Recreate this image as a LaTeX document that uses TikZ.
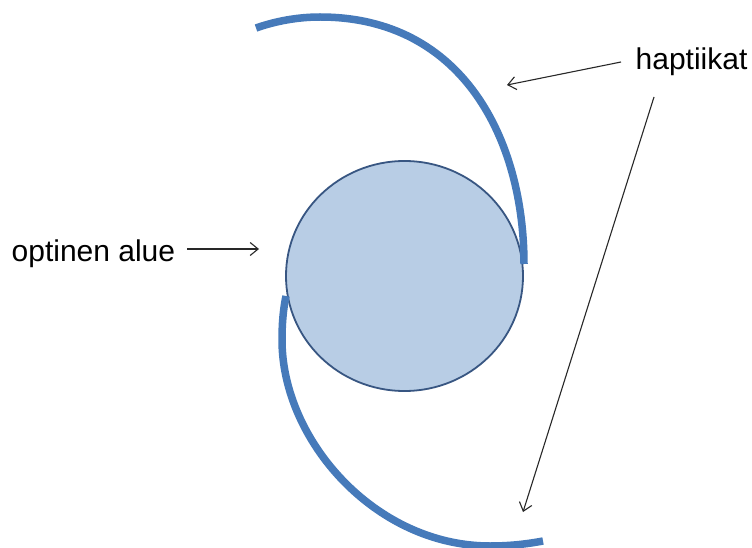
\documentclass[tikz,border=0pt]{standalone}
\usepackage{fontspec}
\setmainfont{Liberation Sans}
\usetikzlibrary{arrows.meta}
\definecolor{hapt}{RGB}{70,122,186}
\definecolor{lensfill}{RGB}{184,205,229}
\definecolor{lensline}{RGB}{56,86,130}
\definecolor{arrowc}{RGB}{40,40,40}
\tikzset{
  haptic/.style={draw=hapt,line width=7.5pt,line cap=butt},
  pointer/.style={draw=arrowc,line width=1.1pt,-{Straight Barb[length=8pt,width=13pt,line width=1.1pt]}},
  lbl/.style={font=\fontsize{30}{36}\selectfont,text=black,inner sep=0pt,anchor=base west}
}
\begin{document}
\begin{tikzpicture}[x=1pt,y=-1pt]
\useasboundingbox (0,0) rectangle (752,548);
\fill[white] (0,0) rectangle (752,548);
\draw[draw=lensline,fill=lensfill,line width=1.8pt] (404.5,276) ellipse [x radius=118.5,y radius=115];
\draw[haptic] (256,28) .. controls (276,21) and (298,17) .. (320,17)
  .. controls (463,17) and (524,140) .. (524,264);
\draw[haptic] (286,296) .. controls (283,310) and (282,325) .. (282,340)
  .. controls (282,440) and (375,546) .. (490,546)
  .. controls (510,546) and (527,544) .. (543,541);
\node[lbl] (hap) at (635.5,70) {haptiikat};
\node[lbl] (opt) at (11.5,261) {optinen alue};
\coordinate (a1s) at (621,62);
\coordinate (a1e) at (507,85);
\coordinate (a2s) at (654,97);
\coordinate (a2e) at (523,512);
\coordinate (a3s) at (187,249);
\coordinate (a3e) at (259,249);
\draw[pointer] (a1s) -- (a1e);
\draw[pointer] (a2s) -- (a2e);
\draw[pointer] (a3s) -- (a3e);
\end{tikzpicture}
\end{document}
